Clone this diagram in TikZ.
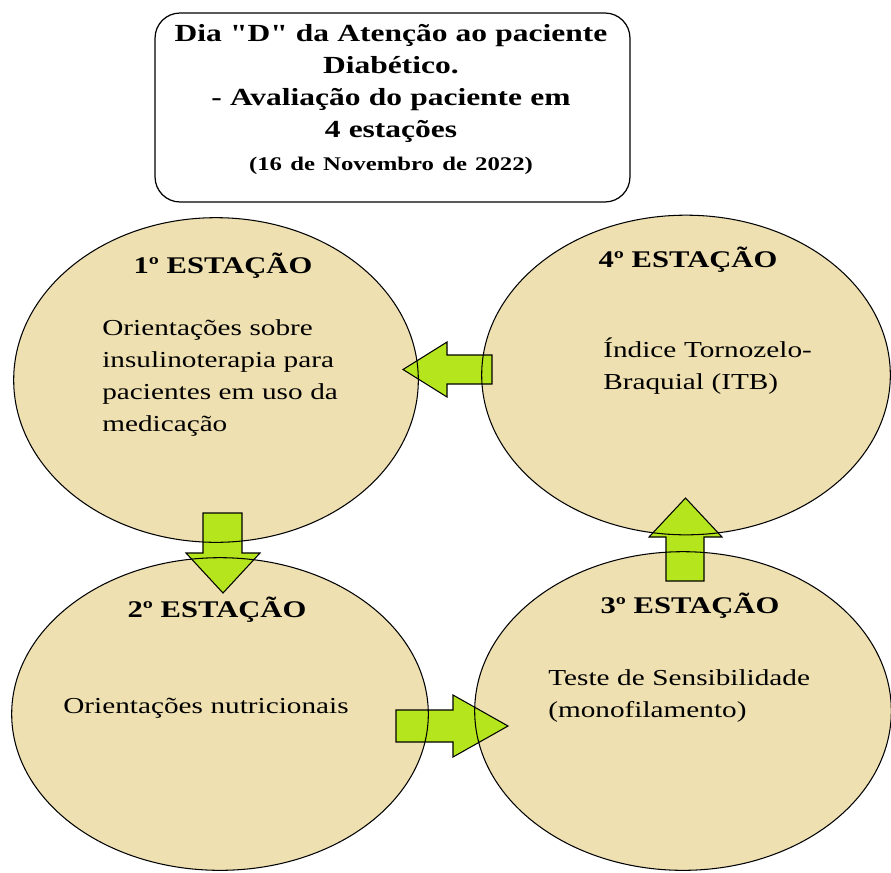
\documentclass[tikz,border=0pt]{standalone}
\usepackage{fontspec}
\setmainfont{Liberation Serif}[FakeStretch=1.28, Ligatures=TeXOff]
\usetikzlibrary{shapes.geometric, calc}

\definecolor{bege}{RGB}{238,224,176}
\definecolor{verdeseta}{RGB}{181,230,29}

\begin{document}
\begin{tikzpicture}[
    x=0.02cm, y=-0.02cm,
    estacao/.style={ellipse, fill=bege, inner sep=0pt},
    contorno/.style={draw=black, line width=0.6pt},
    seta/.style={draw=black, line width=0.6pt, fill=verdeseta, line join=miter},
    quadro/.style={draw, line width=0.7pt, rounded corners=0.5cm, minimum width=9.5cm, minimum height=3.78cm},
    titulo/.style={inner sep=0pt, text width=9.4cm, align=center, font=\fontsize{14}{18.4}\selectfont\bfseries},
    cabecalho/.style={inner sep=0pt, anchor=base, font=\fontsize{13.6}{16}\selectfont\bfseries},
    corpo/.style={inner sep=0pt, anchor=base west, text width=6cm, align=left, font=\fontsize{13}{18.4}\selectfont}
]
\useasboundingbox (0,0) rectangle (891,872);

% title box
\node[quadro] (quadro) at (392.5,107.5) {};
\node[titulo, anchor=base] (titulo) at (391,41) {Dia "D" da Atenção ao paciente\\
  Diabético.\\
  - Avaliação do paciente em\\
  4 estações\\
  {\fontsize{11}{18.4}\selectfont (16 de Novembro de 2022)}};

% stations (fill only, outlines drawn over the arrows)
\node[estacao, minimum width=8.08cm, minimum height=6.48cm] (e1) at (216,380) {};
\node[estacao, minimum width=8.16cm, minimum height=6.38cm] (e4) at (686,375) {};
\node[estacao, minimum width=8.32cm, minimum height=6.24cm] (e2) at (220,714) {};
\node[estacao, minimum width=8.32cm, minimum height=6.36cm] (e3) at (683,711) {};

% block arrows
\draw[seta] (492,355) -- (447,355) -- (447,342) -- (403,369.5) -- (447,397) -- (447,384) -- (492,384) -- cycle;
\draw[seta] (203,513) -- (242,513) -- (242,553) -- (260,553) -- (223,593) -- (186,553) -- (203,553) -- cycle;
\draw[seta] (396,710) -- (453,710) -- (453,695) -- (508,726) -- (453,757) -- (453,742) -- (396,742) -- cycle;
\draw[seta] (666,581) -- (666,537) -- (649,537) -- (685.5,498) -- (722,537) -- (704,537) -- (704,581) -- cycle;

\foreach \e in {e1,e2,e3,e4}
  \draw[contorno] let \p1=(\e.east), \p2=(\e.north), \p3=(\e.center) in
    (\p3) ellipse [x radius=\x1-\x3, y radius=\y2-\y3];

% 1
\node[cabecalho] (t1) at (223,273) {1º ESTAÇÃO};
\node[corpo] (d1) at (102,335) {Orientações sobre\\insulinoterapia para\\pacientes em uso da\\medicação};

% 4
\node[cabecalho] (t4) at (688,267) {4º ESTAÇÃO};
\node[corpo] (d4) at (603,357) {Índice Tornozelo-\\Braquial (ITB)};

% 2
\node[cabecalho] (t2) at (217,617) {2º ESTAÇÃO};
\node[corpo] (d2) at (63,713) {Orientações nutricionais};

% 3
\node[cabecalho] (t3) at (690,613) {3º ESTAÇÃO};
\node[corpo] (d3) at (548,685) {Teste de Sensibilidade\\(monofilamento)};

\end{tikzpicture}
\end{document}
